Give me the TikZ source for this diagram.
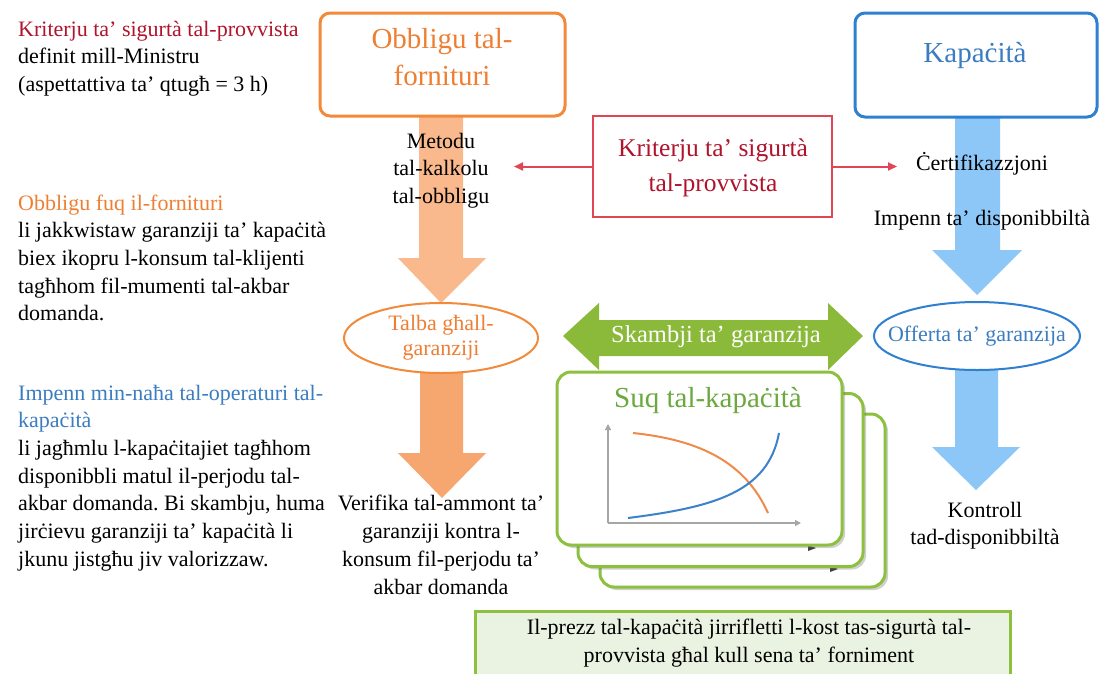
\documentclass[tikz,border=0pt]{standalone}
\usepackage{fontspec}
\setmainfont{Liberation Serif}
\frenchspacing
\usetikzlibrary{shapes.geometric,arrows.meta,shadows}
\definecolor{dred}{HTML}{B0142C}
\definecolor{rbox}{HTML}{E04654}
\definecolor{ortx}{HTML}{EE7F32}
\definecolor{orbd}{HTML}{F28A3A}
\definecolor{orarA}{HTML}{F9B98C}
\definecolor{orarB}{HTML}{F6A66F}
\definecolor{bltx}{HTML}{3B7DC0}
\definecolor{blbd}{HTML}{2F80D0}
\definecolor{blar}{HTML}{8CC7F7}
\definecolor{grbd}{HTML}{8DC03F}
\definecolor{grar}{HTML}{8BBA3A}
\definecolor{grtx}{HTML}{6BA83E}
\definecolor{grfill}{HTML}{EAF3E1}
\definecolor{curveor}{HTML}{F08A4B}
\definecolor{curvebl}{HTML}{3B82CB}
\begin{document}
\begin{tikzpicture}[x=1pt,y=-1pt,
  body/.style={font=\fontsize{22}{27.7}\selectfont, inner sep=0pt},
  ttl/.style={font=\fontsize{29}{37}\selectfont, inner sep=0pt},
  bigbox/.style={draw, line width=3pt, rounded corners=10pt, fill=white},
  card/.style={draw=grbd, line width=3pt, fill=white, rounded corners=14pt,
    minimum width=285pt, minimum height=173pt,
    drop shadow={shadow xshift=3pt, shadow yshift=-3pt, opacity=0.3, fill=black!60}},
  redcon/.style={draw=rbox, line width=2pt, -{Triangle[length=9pt,width=8pt]}},
  axis/.style={draw=gray!70, line width=1.3pt, -{Triangle[length=6pt,width=6pt]}},
  tipmark/.style={fill=black!75},
  ell/.style={ellipse, line width=2pt, fill=white, inner sep=0pt}
]
\clip (0,0) rectangle (1100,673);
\fill[white] (0,0) rectangle (1100,673);

% ---------- left column text (anchor = baseline of last line) ----------
\node[body, anchor=base west, align=left] (lt1) at (18,91.4)
  {\textcolor{dred}{Kriterju ta’ sigurtà tal-provvista}\\definit mill-Ministru\\(aspettattiva ta’ qtugħ = 3 h)};
\node[body, anchor=base west, align=left] (lt2) at (18,320.8)
  {\textcolor{ortx}{Obbligu fuq il-fornituri}\\li jakkwistaw garanziji ta’ kapaċità\\biex ikopru l-konsum tal-klijenti\\tagħhom fil-mumenti tal-akbar\\domanda.};
\node[body, anchor=base west, align=left] (lt3) at (18,566.2)
  {\textcolor{bltx}{Impenn min-naħa tal-operaturi tal-}\\\textcolor{bltx}{kapaċità}\\li jagħmlu l-kapaċitajiet tagħhom\\disponibbli matul il-perjodu tal-\\akbar domanda. Bi skambju, huma\\jirċievu garanziji ta’ kapaċità li\\jkunu jistgħu jiv valorizzaw.};

% ---------- fat arrows ----------
\fill[orarA] (419,116) -- (463,116) -- (463,258) -- (486,258) -- (441,303) -- (398,258) -- (419,258) -- cycle;
\fill[orarB] (420,372) -- (463,372) -- (463,453) -- (486,453) -- (442,498) -- (398,453) -- (420,453) -- cycle;
\fill[blar] (955,117) -- (1000,117) -- (1000,250) -- (1022,250) -- (977,295) -- (932,250) -- (955,250) -- cycle;
\fill[blar] (955,370) -- (998,370) -- (998,447) -- (1020,447) -- (976,490) -- (932,447) -- (955,447) -- cycle;

% ---------- top boxes ----------
\node[bigbox, draw=orbd, minimum width=245pt, minimum height=103pt] (obl) at (442.5,64.5) {};
\node[ttl, text=ortx, anchor=base, align=center] (oblt) at (442,85) {Obbligu tal-\\fornituri};
\node[bigbox, draw=blbd, minimum width=242pt, minimum height=104pt] (kap) at (976,65) {};
\node[ttl, text=bltx, anchor=base] (kapt) at (975,62) {Kapaċità};

\node[draw=rbox, line width=2.5pt, fill=white, minimum width=239pt, minimum height=101pt] (krit) at (712.5,166.5) {};
\node[font=\fontsize{25.5}{35}\selectfont, inner sep=0pt, text=dred, anchor=base, align=center] (kritt) at (713,191) {Kriterju ta’ sigurtà\\tal-provvista};
\coordinate (ml) at (514,166.5);
\coordinate (mr) at (897,166.5);
\draw[redcon] (krit.west) -- (ml);
\draw[redcon] (krit.east) -- (mr);

% ---------- labels on arrows ----------
\node[body, anchor=base, align=center] (met) at (441,203.4) {Metodu\\tal-kalkolu\\tal-obbligu};
\node[body, anchor=base] (cert) at (982,170) {Ċertifikazzjoni};
\node[body, anchor=base] (impd) at (982,225) {Impenn ta’ disponibbiltà};

% ---------- ellipses ----------
\node[ell, draw=orbd, minimum width=194pt, minimum height=70pt] (talba) at (441,338) {};
\node[align=center, inner sep=0pt, font=\fontsize{22}{25}\selectfont, text=ortx] (talbat) at (441,338) {Talba għall-\\garanziji};
\node[ell, draw=blbd, minimum width=206pt, minimum height=68pt] (off) at (977,336) {};
\node[inner sep=0pt, font=\fontsize{22}{25}\selectfont, text=bltx] (offt) at (977,336) {Offerta ta’ garanzija};

\node[body, anchor=base, align=center] (ver) at (441,594) {Verifika tal-ammont ta’\\garanziji kontra l-\\konsum fil-perjodu ta’\\akbar domanda};
\node[body, anchor=base, align=center] (kon) at (985,544.7) {Kontroll\\tad-disponibbiltà};

% ---------- green exchange arrow ----------
\fill[grar] (563,336) -- (599,303) -- (599,320) -- (828,320) -- (828,303) -- (863,336) -- (828,370) -- (828,356) -- (599,356) -- (599,370) -- cycle;
\node[font=\fontsize{24.5}{28}\selectfont, text=white, inner sep=0pt] (skam) at (716,337) {Skambji ta’ garanzija};

% ---------- market cards ----------
\node[card] (c3) at (742.5,500.5) {};
\fill[tipmark] (830,566) -- (838,569) -- (830,572) -- cycle;
\node[card] (c2) at (720.5,480) {};
\fill[tipmark] (808,545) -- (816,548) -- (808,551) -- cycle;
\node[card] (c1) at (699.5,458.5) {};
\node[ttl, text=grtx] (suq) at (708,400) {Suq tal-kapaċità};
\coordinate (o) at (608,523);
\coordinate (ytip) at (608,424);
\coordinate (xtip) at (801,523);
\draw[axis] (o) -- (ytip);
\draw[axis] (o) -- (xtip);
\draw[curveor, line width=2pt] (633,433) .. controls (700,440) and (745,462) .. (768,513);
\draw[curvebl, line width=2pt] (628,518) .. controls (715,507) and (768,492) .. (779,433);

% ---------- bottom box ----------
\node[draw=grbd, line width=3pt, fill=grfill, minimum width=535pt, minimum height=80pt] (prz) at (742.5,651) {};
\node[inner sep=0pt, anchor=base, align=center, font=\fontsize{22}{28}\selectfont] (przt) at (749,662) {Il-prezz tal-kapaċità jirrifletti l-kost tas-sigurtà tal-\\provvista għal kull sena ta’ forniment};
\end{tikzpicture}
\end{document}
